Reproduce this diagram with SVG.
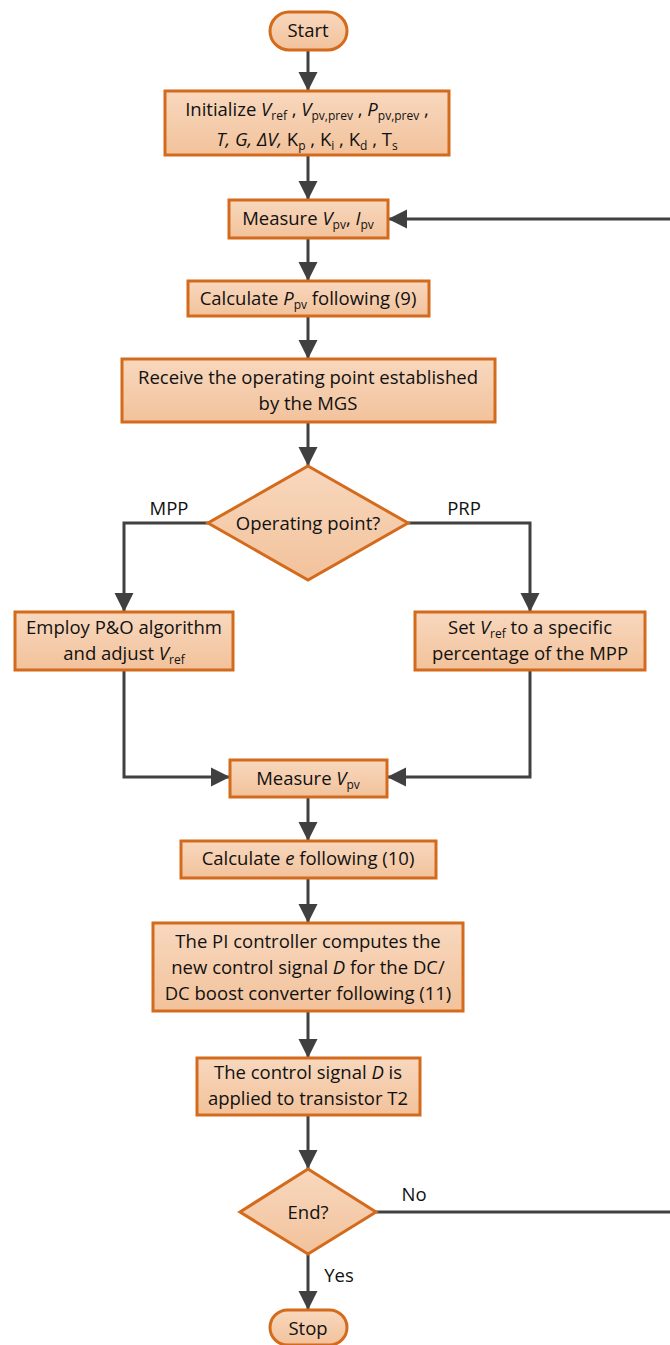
<svg xmlns="http://www.w3.org/2000/svg" width="670" height="1345" viewBox="0 0 670 1345">
<defs>
<linearGradient id="g" x1="0" y1="0" x2="0" y2="1">
<stop offset="0" stop-color="#F8D8BE"/>
<stop offset="1" stop-color="#F2C29B"/>
</linearGradient>
<marker id="ah" markerUnits="userSpaceOnUse" markerWidth="20" markerHeight="20" viewBox="0 0 20 20" refX="19" refY="10" orient="auto">
<path d="M0,0.5 L19,10 L0,19.5 Z" fill="#404040"/>
</marker>
<style>
.n{fill:url(#g);stroke:#D46B1C;stroke-width:3}
.t{font-family:"Open Sans","Noto Sans",sans-serif;font-size:18.5px;fill:#111;text-anchor:middle}
.s{font-size:12px}
.i{font-style:italic}
.c{fill:none;stroke:#404040;stroke-width:3}
.a{marker-end:url(#ah)}
</style>
</defs>
<g id="connectors">
<path class="c a" d="M308,51 V91"/>
<path class="c a" d="M308,155 V200"/>
<path class="c a" d="M308,238 V281"/>
<path class="c a" d="M308,316 V359"/>
<path class="c a" d="M308,422 V466"/>
<path class="c a" d="M208,523 H124 V612"/>
<path class="c a" d="M408,523 H530 V612"/>
<path class="c a" d="M124,670 V777 H230"/>
<path class="c a" d="M530,670 V777 H387"/>
<path class="c a" d="M308,797 V841"/>
<path class="c a" d="M308,878 V923"/>
<path class="c a" d="M308,1011 V1058"/>
<path class="c a" d="M308,1115 V1169"/>
<path class="c a" d="M308,1254 V1310"/>
<path class="c" d="M376,1212 H672"/>
<path class="c a" d="M672,219 H388"/>
<text class="t" x="169" y="515">MPP</text>
<text class="t" x="464" y="515">PRP</text>
<text class="t" x="414" y="1201">No</text>
<text class="t" x="339" y="1282">Yes</text>
</g>
<g id="start">
<rect class="n" x="270" y="12" width="77" height="38" rx="19"/>
<text class="t" x="308" y="37">Start</text>
</g>
<g id="init">
<rect class="n" x="165" y="91" width="284" height="64"/>
<text class="t" x="307" y="116">Initialize <tspan class="i">V</tspan><tspan class="s" dy="4">ref</tspan><tspan dy="-4"> , </tspan><tspan class="i">V</tspan><tspan class="s" dy="4">pv,prev</tspan><tspan dy="-4"> , </tspan><tspan class="i">P</tspan><tspan class="s" dy="4">pv,prev</tspan><tspan dy="-4"> ,</tspan></text>
<text class="t" x="307" y="146"><tspan class="i">T, G, ΔV, </tspan>K<tspan class="s" dy="4">p</tspan><tspan dy="-4"> , K</tspan><tspan class="s" dy="4">i</tspan><tspan dy="-4"> , K</tspan><tspan class="s" dy="4">d</tspan><tspan dy="-4"> , T</tspan><tspan class="s" dy="4">s</tspan></text>
</g>
<g id="measure1">
<rect class="n" x="229" y="200" width="159" height="38"/>
<text class="t" x="308" y="225">Measure <tspan class="i">V</tspan><tspan class="s" dy="4">pv</tspan><tspan dy="-4">, </tspan><tspan class="i">I</tspan><tspan class="s" dy="4">pv</tspan></text>
</g>
<g id="calcP">
<rect class="n" x="188" y="281" width="241" height="35"/>
<text class="t" x="308" y="305">Calculate <tspan class="i">P</tspan><tspan class="s" dy="4">pv</tspan><tspan dy="-4"> following (9)</tspan></text>
</g>
<g id="receive">
<rect class="n" x="122" y="359" width="373" height="63"/>
<text class="t" x="308" y="384">Receive the operating point established</text>
<text class="t" x="308" y="410">by the MGS</text>
</g>
<g id="opDecision">
<polygon class="n" points="308,466 408,523 308,580 208,523"/>
<text class="t" x="308" y="530">Operating point?</text>
</g>
<g id="employ">
<rect class="n" x="15" y="612" width="218" height="58"/>
<text class="t" x="124" y="634">Employ P&amp;O algorithm</text>
<text class="t" x="124" y="660">and adjust <tspan class="i">V</tspan><tspan class="s" dy="4">ref</tspan></text>
</g>
<g id="setVref">
<rect class="n" x="415" y="612" width="230" height="58"/>
<text class="t" x="530" y="634">Set <tspan class="i">V</tspan><tspan class="s" dy="4">ref</tspan><tspan dy="-4"> to a specific</tspan></text>
<text class="t" x="530" y="660">percentage of the MPP</text>
</g>
<g id="measure2">
<rect class="n" x="230" y="760" width="157" height="37"/>
<text class="t" x="308" y="785">Measure <tspan class="i">V</tspan><tspan class="s" dy="4">pv</tspan></text>
</g>
<g id="calcE">
<rect class="n" x="181" y="841" width="255" height="37"/>
<text class="t" x="308" y="865">Calculate <tspan class="i">e</tspan> following (10)</text>
</g>
<g id="pi">
<rect class="n" x="153" y="923" width="310" height="88"/>
<text class="t" x="308" y="948">The PI controller computes the</text>
<text class="t" x="308" y="974">new control signal <tspan class="i">D</tspan> for the DC/</text>
<text class="t" x="308" y="1000">DC boost converter following (11)</text>
</g>
<g id="apply">
<rect class="n" x="197" y="1058" width="223" height="57"/>
<text class="t" x="308" y="1079">The control signal <tspan class="i">D</tspan> is</text>
<text class="t" x="308" y="1105">applied to transistor T2</text>
</g>
<g id="endDecision">
<polygon class="n" points="308,1169 376,1212 308,1254 240,1212"/>
<text class="t" x="308" y="1219">End?</text>
</g>
<g id="stop">
<rect class="n" x="270" y="1310" width="77" height="35" rx="17.5"/>
<text class="t" x="308" y="1335">Stop</text>
</g>
</svg>
